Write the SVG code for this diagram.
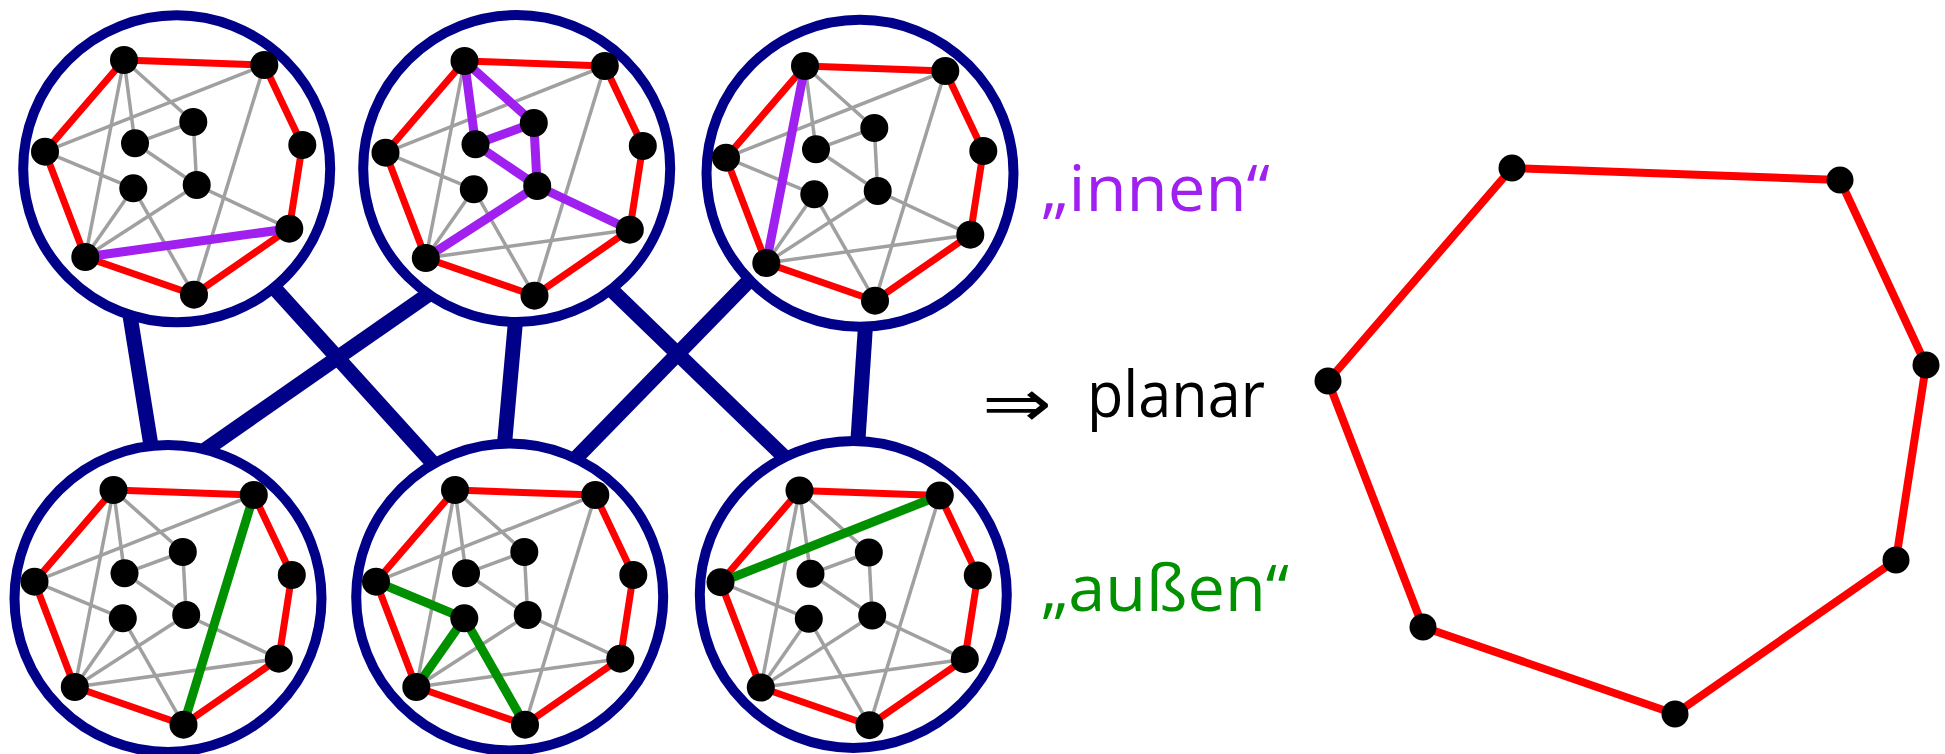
<svg xmlns="http://www.w3.org/2000/svg" xmlns:xlink="http://www.w3.org/1999/xlink" width="1945" height="754" viewBox="0 0 1945 754">
<style>
.ring{fill:#fff;stroke:#000088;stroke-width:10}
.conn{stroke:#000088;stroke-width:15;fill:none}
.gray{stroke:#a0a0a0;stroke-width:3.5;fill:none}
.red{stroke:#ff0000;stroke-width:7;fill:none;stroke-linejoin:round}
.pur{stroke:#a020f0;stroke-width:9;stroke-linecap:round}
.grn{stroke:#009000;stroke-width:9;stroke-linecap:round}
.dot{fill:#000}
.lbl{font-family:"Open Sans","DejaVu Sans",sans-serif;font-size:64px}
</style>
<defs>
<g id="base">
<g class="gray">
<line x1="124" y1="60" x2="193.3" y2="122"/>
<line x1="124" y1="60" x2="135" y2="143.3"/>
<line x1="124" y1="60" x2="85.3" y2="257"/>
<line x1="264.3" y1="65" x2="45" y2="151.7"/>
<line x1="264.3" y1="65" x2="194" y2="294.7"/>
<line x1="45" y1="151.7" x2="133.3" y2="188.3"/>
<line x1="135" y1="143.3" x2="193.3" y2="122"/>
<line x1="193.3" y1="122" x2="196.7" y2="185"/>
<line x1="135" y1="143.3" x2="196.7" y2="185"/>
<line x1="196.7" y1="185" x2="289.3" y2="228.7"/>
<line x1="196.7" y1="185" x2="85.3" y2="257"/>
<line x1="133.3" y1="188.3" x2="85.3" y2="257"/>
<line x1="133.3" y1="188.3" x2="194" y2="294.7"/>
<line x1="85.3" y1="257" x2="289.3" y2="228.7"/>
</g>
<polygon class="red" points="124,60 264.3,65 302.3,145 289.3,228.7 194,294.7 85.3,257 45,151.7"/>
</g>
<g id="dots" class="dot">
<circle cx="124" cy="60" r="14"/>
<circle cx="264.3" cy="65" r="14"/>
<circle cx="45" cy="151.7" r="14"/>
<circle cx="302.3" cy="145" r="14"/>
<circle cx="289.3" cy="228.7" r="14"/>
<circle cx="85.3" cy="257" r="14"/>
<circle cx="194" cy="294.7" r="14"/>
<circle cx="193.3" cy="122" r="14"/>
<circle cx="135" cy="143.3" r="14"/>
<circle cx="133.3" cy="188.3" r="14"/>
<circle cx="196.7" cy="185" r="14"/>
</g>
</defs>
<g id="connectors" class="conn">
<line x1="127.5" y1="300" x2="152.5" y2="455"/>
<line x1="268" y1="281" x2="440" y2="471"/>
<line x1="437" y1="288.5" x2="200" y2="453.5"/>
<line x1="516.5" y1="310" x2="503.7" y2="453"/>
<line x1="604" y1="282.6" x2="793" y2="465.4"/>
<line x1="757.5" y1="272" x2="569.5" y2="464.7"/>
<line x1="866" y1="318" x2="857.3" y2="450"/>
</g>
<g id="cluster1">
<circle class="ring" cx="176.7" cy="168.8" r="153.5"/>
<use xlink:href="#base" href="#base"/>
<line class="pur" x1="85.3" y1="257" x2="289.3" y2="228.7"/>
<use xlink:href="#dots" href="#dots"/>
</g>
<g id="cluster2">
<circle class="ring" cx="516.7" cy="168.5" r="153.5"/>
<g transform="translate(340.5,1)">
<use xlink:href="#base" href="#base"/>
<g class="pur">
<line x1="124" y1="60" x2="135" y2="143.3"/>
<line x1="124" y1="60" x2="193.3" y2="122"/>
<line x1="135" y1="143.3" x2="193.3" y2="122"/>
<line x1="193.3" y1="122" x2="196.7" y2="185"/>
<line x1="135" y1="143.3" x2="196.7" y2="185"/>
<line x1="196.7" y1="185" x2="85.3" y2="257"/>
<line x1="196.7" y1="185" x2="289.3" y2="228.7"/>
</g>
<use xlink:href="#dots" href="#dots"/>
</g>
</g>
<g id="cluster3">
<circle class="ring" cx="860" cy="173.3" r="153.5"/>
<g transform="translate(681,6)">
<use xlink:href="#base" href="#base"/>
<line class="pur" x1="124" y1="60" x2="85.3" y2="257"/>
<use xlink:href="#dots" href="#dots"/>
</g>
</g>
<g id="cluster4">
<circle class="ring" cx="168" cy="598.5" r="153.5"/>
<g transform="translate(-10.5,430)">
<use xlink:href="#base" href="#base"/>
<line class="grn" x1="264.3" y1="65" x2="194" y2="294.7"/>
<use xlink:href="#dots" href="#dots"/>
</g>
</g>
<g id="cluster5">
<circle class="ring" cx="509.7" cy="597" r="153.5"/>
<g transform="translate(331,430)">
<use xlink:href="#base" href="#base"/>
<g class="grn">
<line x1="45" y1="151.7" x2="133.3" y2="188.3"/>
<line x1="133.3" y1="188.3" x2="85.3" y2="257"/>
<line x1="133.3" y1="188.3" x2="194" y2="294.7"/>
</g>
<use xlink:href="#dots" href="#dots"/>
</g>
</g>
<g id="cluster6">
<circle class="ring" cx="853.3" cy="594.5" r="153.5"/>
<g transform="translate(675.5,430.5)">
<use xlink:href="#base" href="#base"/>
<line class="grn" x1="264.3" y1="65" x2="45" y2="151.7"/>
<use xlink:href="#dots" href="#dots"/>
</g>
</g>
<g id="labels">
<text class="lbl" x="1041" y="211" fill="#a020f0" textLength="229" lengthAdjust="spacingAndGlyphs">„innen“</text>
<text x="982" y="426" font-family="DejaVu Sans, sans-serif" font-size="66" fill="#000" textLength="70" lengthAdjust="spacingAndGlyphs">⇒</text>
<text class="lbl" x="1087" y="417" fill="#000" textLength="178" lengthAdjust="spacingAndGlyphs">planar</text>
<text class="lbl" x="1041" y="611" fill="#009000" textLength="248" lengthAdjust="spacingAndGlyphs">„außen“</text>
</g>
<g id="cycle">
<polygon points="1512,168 1840,180 1926,365 1896,560 1675,714 1423,627 1328,381" fill="none" stroke="#ff0000" stroke-width="8" stroke-linejoin="round"/>
<g class="dot">
<circle cx="1512" cy="168" r="13.5"/>
<circle cx="1840" cy="180" r="13.5"/>
<circle cx="1926" cy="365" r="13.5"/>
<circle cx="1896" cy="560" r="13.5"/>
<circle cx="1675" cy="714" r="13.5"/>
<circle cx="1423" cy="627" r="13.5"/>
<circle cx="1328" cy="381" r="13.5"/>
</g>
</g>
</svg>
